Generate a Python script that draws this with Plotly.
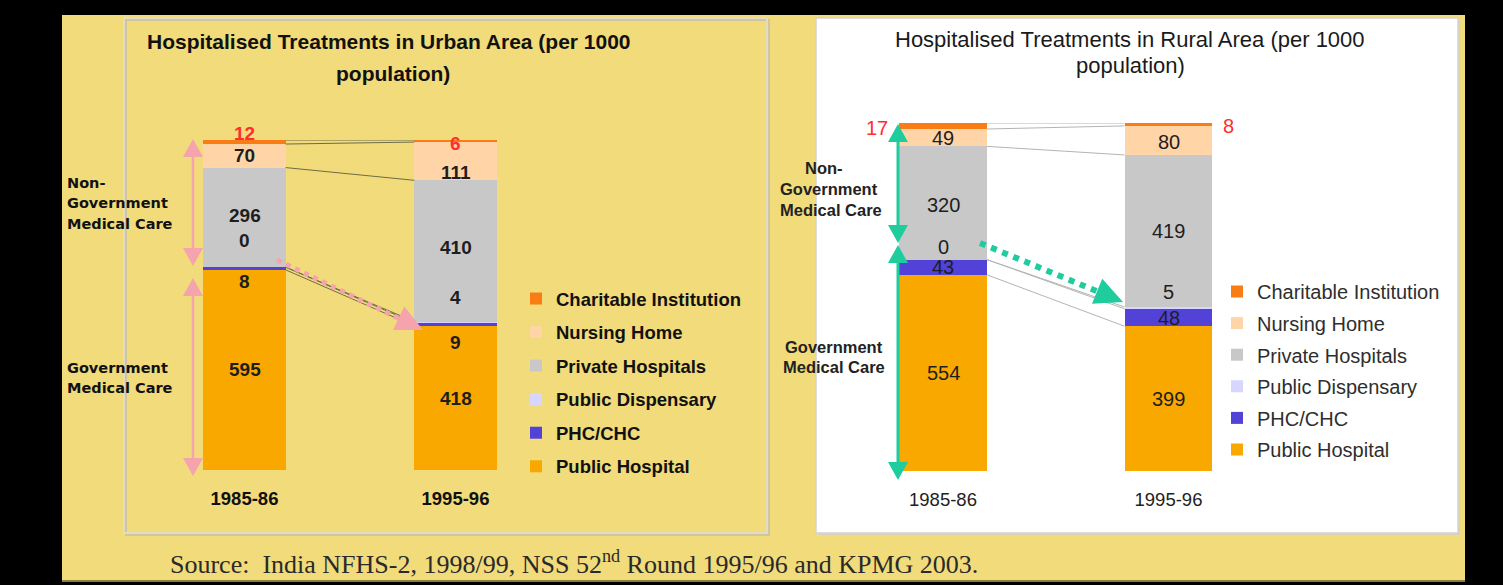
import math
import plotly.graph_objects as go

W, H = 1503, 585

YEARS = ["1985-86", "1995-96"]
SERIES = ["Public Hospital", "PHC/CHC", "Public Dispensary",
          "Private Hospitals", "Nursing Home", "Charitable Institution"]
URBAN_1985 = [595, 8, 0, 296, 70, 12]
URBAN_1995 = [418, 9, 4, 410, 111, 6]
RURAL_1985 = [554, 43, 0, 320, 49, 17]
RURAL_1995 = [399, 48, 5, 419, 80, 8]

COLORS = ["#F9A800", "#5242D8", "#D6D6FF", "#C8C8C8", "#FFD5A8", "#F97D14"]

URBAN_TITLE = ["Hospitalised Treatments in Urban Area (per 1000", "population)"]
RURAL_TITLE = ["Hospitalised Treatments in Rural Area (per 1000", "population)"]
SIDE_TOP = ["Non-", "Government", "Medical Care"]
SIDE_BOTTOM = ["Government", "Medical Care"]
SOURCE = "Source:  India NFHS-2, 1998/99, NSS 52<sup>nd</sup> Round 1995/96 and KPMG 2003."

# label nudges in pixels (+ = up), per year, per series
URBAN_DY = [[0, -13, 27, 2, 0, 9], [0, -18, 25, 3, -11, -2]]
RURAL_DY = [[0, 0, 13, -2, 0, -2], [0, 0, 16, 0, -2, -2]]
URBAN_DX_CHAR = [0, 0]
RURAL_DX_CHAR = [-66, 60]

FONT = "Liberation Sans, Arial, sans-serif"
PINK = "#F5A3AD"
TEAL = "#1FCC9E"
RED = "#FF2E2E"
YELLOW = "#F1DB7A"


def px(x):
    return x / W


def py(y):
    return 1 - y / H


def cum_pct(vals):
    tot = float(sum(vals))
    out, c = [], 0
    for v in vals:
        c += v
        out.append(100.0 * c / tot)
    return out


fig = go.Figure()

BAR_W = 0.39
n = len(SERIES)
for i, name in enumerate(SERIES):
    fig.add_trace(go.Bar(
        x=YEARS, y=[URBAN_1985[i], URBAN_1995[i]], name=name,
        marker=dict(color=COLORS[i], line=dict(width=0)), width=BAR_W,
        xaxis="x", yaxis="y", legend="legend", legendgroup="u%d" % i,
        legendrank=n - i, hoverinfo="skip"))
for i, name in enumerate(SERIES):
    fig.add_trace(go.Bar(
        x=YEARS, y=[RURAL_1985[i], RURAL_1995[i]], name=name,
        marker=dict(color=COLORS[i], line=dict(width=0)), width=BAR_W,
        xaxis="x2", yaxis="y2", legend="legend2", legendgroup="r%d" % i,
        legendrank=n - i, hoverinfo="skip"))

shapes = []
annotations = []

# ---- slide background ----
shapes.append(dict(type="rect", xref="paper", yref="paper", x0=px(62), x1=px(1465),
                   y0=py(582), y1=py(15), fillcolor=YELLOW, line=dict(width=0), layer="below"))
shapes.append(dict(type="line", xref="paper", yref="paper", x0=px(62), x1=px(1465),
                   y0=py(581), y1=py(581), line=dict(color="#8C7E3C", width=2), layer="below"))
# left panel frame with shadow
shapes.append(dict(type="rect", xref="paper", yref="paper", x0=px(126), x1=px(769),
                   y0=py(535), y1=py(20), fillcolor="rgba(0,0,0,0)",
                   line=dict(color="#CFC6A0", width=2), layer="below"))
shapes.append(dict(type="rect", xref="paper", yref="paper", x0=px(124), x1=px(767),
                   y0=py(533), y1=py(18), fillcolor="rgba(0,0,0,0)",
                   line=dict(color="#E2DCC4", width=2), layer="below"))
# right panel (white)
shapes.append(dict(type="rect", xref="paper", yref="paper", x0=px(818), x1=px(1460),
                   y0=py(535), y1=py(20), fillcolor="#D8D2B8",
                   line=dict(width=0), layer="below"))
shapes.append(dict(type="rect", xref="paper", yref="paper", x0=px(816), x1=px(1458),
                   y0=py(533), y1=py(18), fillcolor="#FFFFFF",
                   line=dict(color="#D4D4D4", width=1.5), layer="below"))


# ---- series lines between bars (from data) ----
def series_lines(v0, v1, xref, yref, color):
    c0, c1 = cum_pct(v0), cum_pct(v1)
    for k in range(len(c0)):
        shapes.append(dict(type="line", xref=xref, yref=yref,
                           x0=0 + BAR_W / 2, x1=1 - BAR_W / 2, y0=c0[k], y1=c1[k],
                           line=dict(color=color, width=1), layer="above"))


series_lines(URBAN_1985, URBAN_1995, "x", "y", "#6E6C48")
series_lines(RURAL_1985, RURAL_1995, "x2", "y2", "#B4B4B4")


# ---- decorative arrows ----
def head(tip, tail, length, width, color):
    dx, dy = tip[0] - tail[0], tip[1] - tail[1]
    d = math.hypot(dx, dy)
    ux, uy = dx / d, dy / d
    bx, by = tip[0] - ux * length, tip[1] - uy * length
    nx, ny = -uy, ux
    p1 = (bx + nx * width / 2, by + ny * width / 2)
    p2 = (bx - nx * width / 2, by - ny * width / 2)
    path = "M%f,%f L%f,%f L%f,%f Z" % (px(tip[0]), py(tip[1]), px(p1[0]), py(p1[1]),
                                       px(p2[0]), py(p2[1]))
    shapes.append(dict(type="path", xref="paper", yref="paper", path=path,
                       fillcolor=color, line=dict(width=0), layer="above"))
    return bx, by


def double_arrow(x, ytop, ybot, color, lw, hl, hw):
    b1 = head((x, ytop), (x, ybot), hl, hw, color)
    b2 = head((x, ybot), (x, ytop), hl, hw, color)
    shapes.append(dict(type="line", xref="paper", yref="paper", x0=px(x), x1=px(x),
                       y0=py(b1[1]), y1=py(b2[1]), line=dict(color=color, width=lw),
                       layer="above"))


def dotted_arrow(tail, tip, color, lw, hl, hw):
    b = head(tip, tail, hl, hw, color)
    shapes.append(dict(type="line", xref="paper", yref="paper", x0=px(tail[0]), x1=px(b[0]),
                       y0=py(tail[1]), y1=py(b[1]),
                       line=dict(color=color, width=lw, dash="dot"), layer="above"))


double_arrow(193, 139, 266, PINK, 2.5, 18, 20)
double_arrow(193, 278, 476, PINK, 2.5, 18, 20)
dotted_arrow((277, 260), (423, 330), PINK, 5, 27, 26)

double_arrow(898, 124, 243, TEAL, 3, 18, 20)
double_arrow(898, 245, 480, TEAL, 3, 18, 20)
dotted_arrow((980, 243), (1123, 302), TEAL, 6, 28, 27)


# ---- value labels (positioned from data) ----
def value_labels(vals_by_year, dys, dxs_char, xref, yref, font_size, weight, char_color):
    for yi, vals in enumerate(vals_by_year):
        c = cum_pct(vals)
        for k, v in enumerate(vals):
            lo = c[k - 1] if k > 0 else 0.0
            mid = (lo + c[k]) / 2.0
            is_char = (k == len(vals) - 1)
            annotations.append(dict(
                x=YEARS[yi], y=mid, xref=xref, yref=yref, text=str(v), showarrow=False,
                xanchor="center", yanchor="middle",
                yshift=dys[yi][k], xshift=dxs_char[yi] if is_char else 0,
                font=dict(family=FONT, size=font_size, weight=weight,
                          color=char_color if is_char else "#1E1E1E")))


value_labels([URBAN_1985, URBAN_1995], URBAN_DY, URBAN_DX_CHAR, "x", "y", 19, 700, RED)
value_labels([RURAL_1985, RURAL_1995], RURAL_DY, RURAL_DX_CHAR, "x2", "y2", 20, 400, RED)


def text(x, y, t, font, anchor="center"):
    annotations.append(dict(x=px(x), y=py(y), xref="paper", yref="paper", text=t,
                            xanchor=anchor, yanchor="middle", showarrow=False, font=font))


# ---- titles ----
TF_L = dict(family=FONT, size=21, weight=700, color="#111")
TF_R = dict(family=FONT, size=22, color="#1A1A1A")
text(389, 42, URBAN_TITLE[0], TF_L)
text(393, 73, URBAN_TITLE[1], TF_L)
text(1130, 40, RURAL_TITLE[0], TF_R)
text(1130, 65, RURAL_TITLE[1], TF_R)

# ---- side group labels ----
SIDE_FONT_L = dict(family="DejaVu Sans, sans-serif", size=14.5, weight=700, color="#111")
for t, yy in zip(SIDE_TOP, [183, 203, 224]):
    text(65, yy, t, SIDE_FONT_L, "left")
for t, yy in zip(SIDE_BOTTOM, [368, 388]):
    text(65, yy, t, SIDE_FONT_L, "left")
SIDE_FONT_R = dict(family=FONT, size=16.5, weight=700, color="#222")
for t, xx, yy in zip(SIDE_TOP, [803, 778, 778], [168, 189, 210]):
    text(xx, yy, t, SIDE_FONT_R, "left")
for t, xx, yy in zip(SIDE_BOTTOM, [783, 781], [347, 367]):
    text(xx, yy, t, SIDE_FONT_R, "left")

# ---- source ----
text(168, 562, SOURCE, dict(family="Liberation Serif, Times New Roman, serif", size=26,
                            color="#2A2A2A"), "left")

fig.update_layout(
    width=W, height=H,
    margin=dict(l=0, r=0, t=0, b=0),
    paper_bgcolor="#000000",
    plot_bgcolor="rgba(0,0,0,0)",
    barmode="stack", barnorm="percent",
    shapes=shapes, annotations=annotations,
    xaxis=dict(domain=[px(244.5 - 0.6 * 211), px(244.5 + 1.6 * 211)], range=[-0.6, 1.6],
               type="category", anchor="y", showgrid=False, zeroline=False, showline=False,
               ticks="", ticklabelstandoff=15,
               tickfont=dict(family=FONT, size=18.5, weight=700, color="#111")),
    yaxis=dict(domain=[py(470), py(140)], range=[0, 100], visible=False, anchor="x"),
    xaxis2=dict(domain=[px(943 - 0.6 * 225.5), px(943 + 1.6 * 225.5)], range=[-0.6, 1.6],
                type="category", anchor="y2", showgrid=False, zeroline=False, showline=False,
                ticks="", ticklabelstandoff=15,
                tickfont=dict(family=FONT, size=18.5, color="#222")),
    yaxis2=dict(domain=[py(471), py(123)], range=[0, 100], visible=False, anchor="x2"),
    legend=dict(x=px(516), y=py(280), xanchor="left", yanchor="top",
                bgcolor="rgba(0,0,0,0)", traceorder="grouped", tracegroupgap=6.5,
                font=dict(family=FONT, size=18.5, weight=700, color="#111"), itemwidth=30),
    legend2=dict(x=px(1217), y=py(272), xanchor="left", yanchor="top",
                 bgcolor="rgba(0,0,0,0)", traceorder="grouped", tracegroupgap=2.6,
                 font=dict(family=FONT, size=20, color="#2E2E2E"), itemwidth=30),
    showlegend=True,
)

fig.write_html("out.html",
               config={"displayModeBar": False},
               post_script="document.body.style.margin='0px';"
                           "document.documentElement.style.overflow='hidden';")
